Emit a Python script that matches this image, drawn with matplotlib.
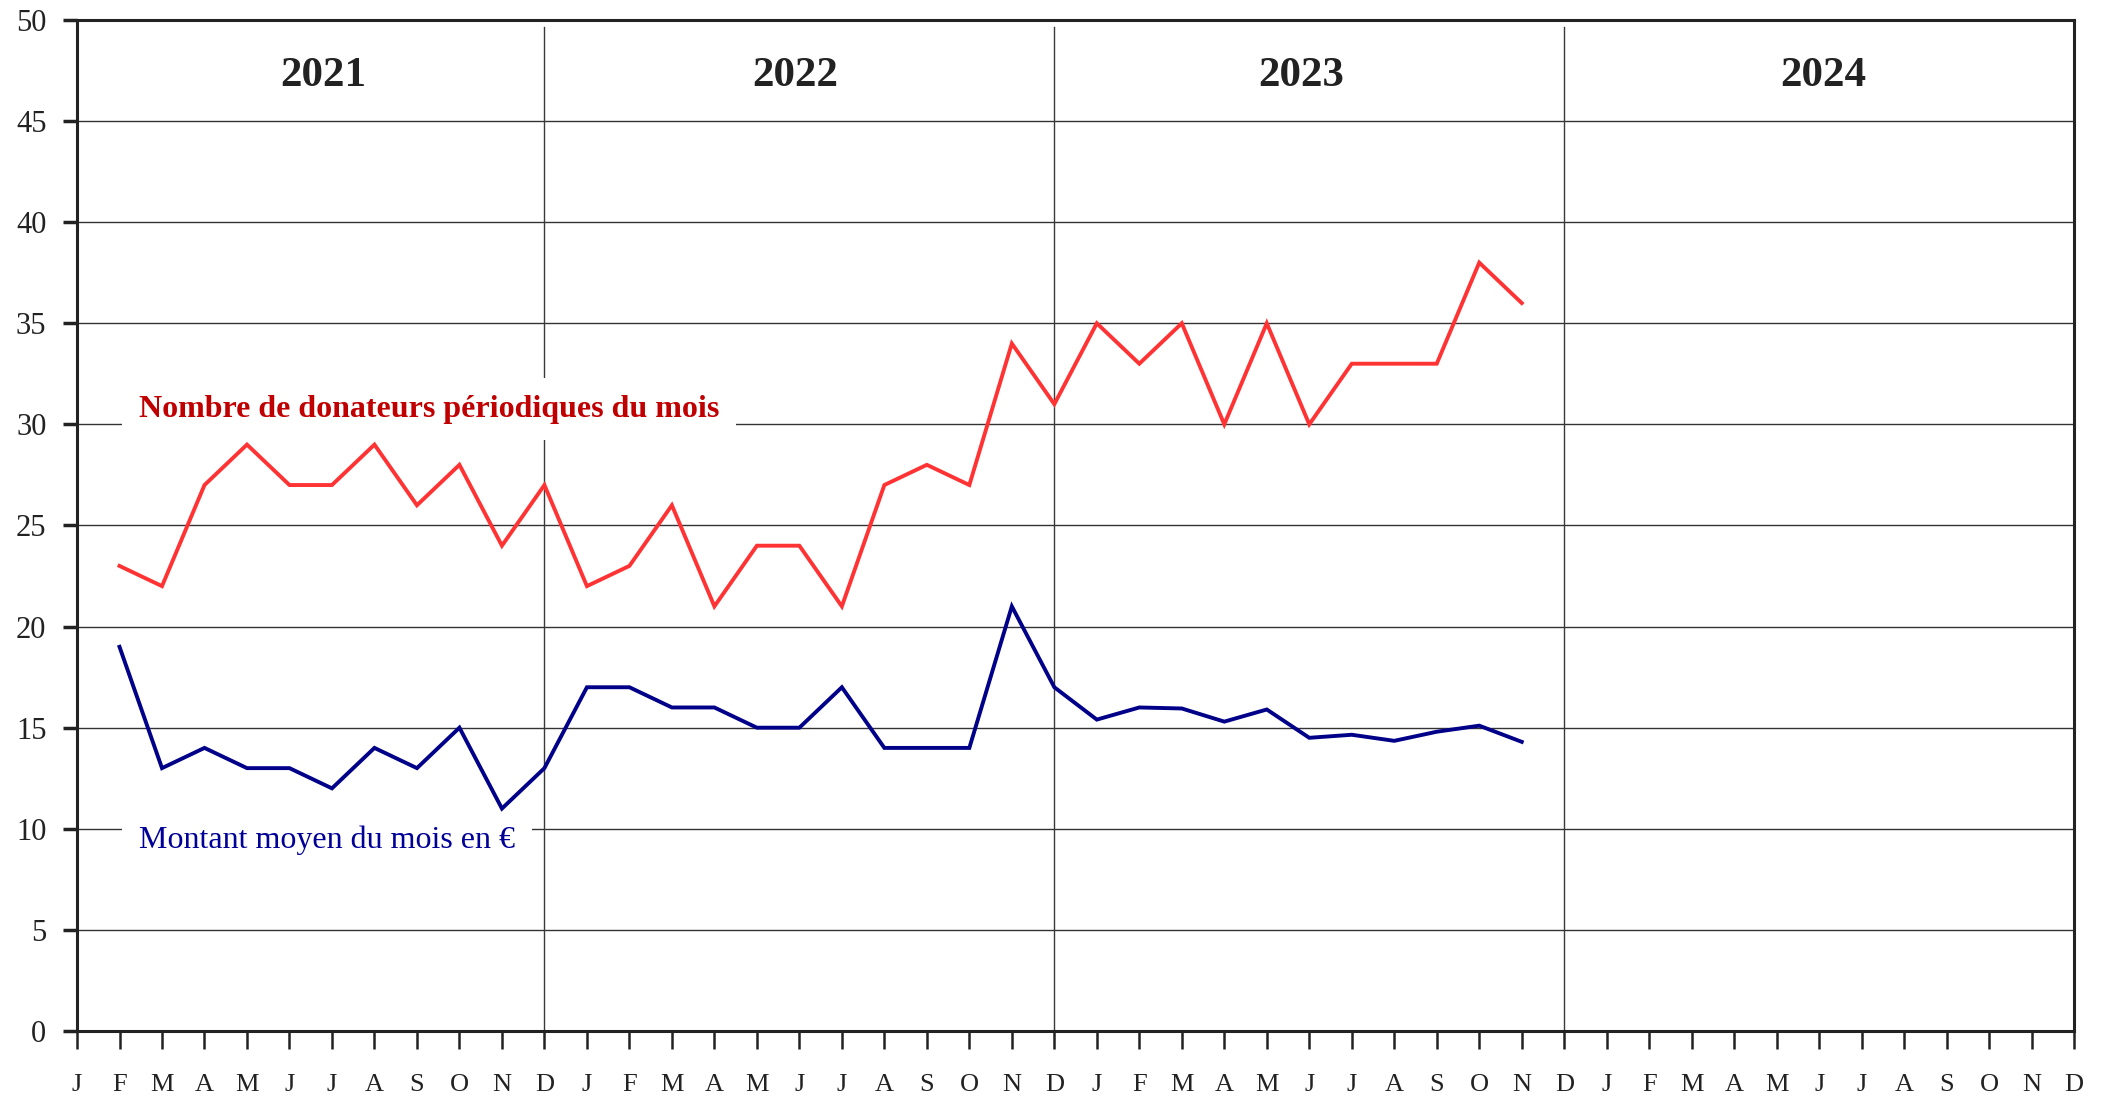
import matplotlib

matplotlib.use("Agg", force=True)
import matplotlib.pyplot as plt
import numpy as np

plt.rcParams["font.family"] = ["Liberation Serif", "DejaVu Serif"]

# --- data -------------------------------------------------------------
years = ["2021", "2022", "2023", "2024"]
year_label_x = [5.8, 16.9, 28.8, 41.1]
month_letters = ["J", "F", "M", "A", "M", "J", "J", "A", "S", "O", "N", "D"]

# both series start in February 2021 (index 1) and end in November 2023
start_index = 1
donateurs = [23, 22, 27, 29, 27, 27, 29, 26, 28, 24, 27,
             22, 23, 26, 21, 24, 24, 21, 27, 28, 27, 34, 31,
             35, 33, 35, 30, 35, 30, 33, 33, 33, 38, 36]
montant = [19, 13, 14, 13, 13, 12, 14, 13, 15, 11, 13,
           17, 17, 16, 16, 15, 15, 17, 14, 14, 14, 21, 17,
           15.4, 16.0, 15.95, 15.3, 15.9, 14.5, 14.65, 14.35, 14.8, 15.1, 14.3]

label_donateurs = "Nombre de donateurs périodiques du mois"
label_montant = "Montant moyen du mois en €"

y_ticks = list(range(0, 55, 5))

# --- figure -----------------------------------------------------------
fig = plt.figure(figsize=(21.10, 10.96), dpi=100)
ax = fig.add_axes([0.0365, 0.0593, 0.9465, 0.9225])

n_months = 12 * len(years)
x_all = np.arange(n_months)
x_series = np.arange(start_index, start_index + len(donateurs))

ax.set_xlim(0, n_months - 1)
ax.set_ylim(0, 50)

# grid: horizontal lines + vertical year separators
for y in y_ticks[1:-1]:
    ax.axhline(y, color="#333333", linewidth=1.0, zorder=1)
for k in range(1, len(years)):
    ax.axvline(12 * k - 1, ymax=0.993, color="#3a3a3a", linewidth=1.0, zorder=1)

ax.plot(x_series, donateurs, color="#ff3333", linewidth=2.8, zorder=3,
        solid_joinstyle="miter")
ax.plot(x_series, montant, color="#000088", linewidth=2.8, zorder=3,
        solid_joinstyle="miter")

# series labels (white box interrupts the gridline)
ax.text(1.46, 30.75, label_donateurs, color="#c00000", fontsize=23,
        fontweight="bold", ha="left", va="center", zorder=2,
        bbox=dict(facecolor="white", edgecolor="none", pad=12))
ax.text(1.46, 9.45, label_montant, color="#000099", fontsize=23,
        ha="left", va="center", zorder=2,
        bbox=dict(facecolor="white", edgecolor="none", pad=12))

# year headers
for xc, year in zip(year_label_x, years):
    ax.text(xc, 46.75, year, fontsize=31, fontweight="bold", color="#222222",
            ha="center", va="baseline")

ax.set_yticks(y_ticks)
ax.set_yticklabels([str(v) for v in y_ticks], fontsize=22, color="#222222")
ax.set_xticks(x_all)
ax.set_xticklabels(month_letters * len(years), fontsize=19, color="#222222")

ax.tick_params(axis="y", direction="out", length=10, width=2.5, pad=12,
               color="#222222")
ax.tick_params(axis="x", direction="out", length=13, width=1.8, pad=18,
               color="#222222")

for side in ["left", "bottom", "top", "right"]:
    ax.spines[side].set_linewidth(2.2)
    ax.spines[side].set_color("#222222")

fig.savefig("out.png", dpi=100, facecolor="white")
plt.close(fig)
